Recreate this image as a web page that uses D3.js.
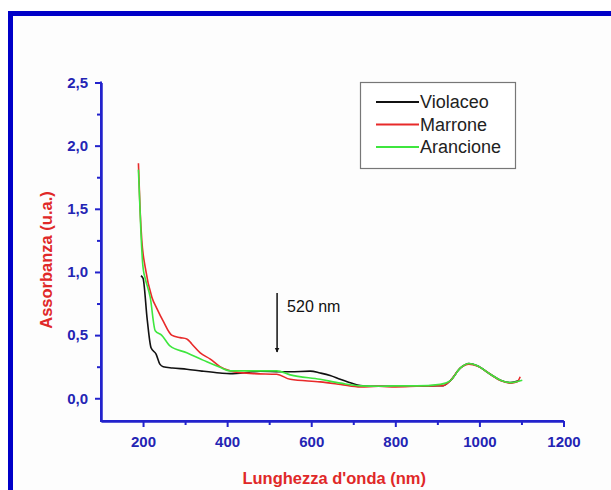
<!DOCTYPE html>
<html><head><meta charset="utf-8">
<script src="https://cdn.jsdelivr.net/npm/d3@7"></script>
<style>
html,body{margin:0;padding:0;background:#fff;}
svg{display:block;}
</style></head>
<body>
<svg id="chart" width="611" height="490"></svg>
<script>
// ---- data ----
const seriesNames = ["Violaceo", "Marrone", "Arancione"];
const seriesColors = ["#111111", "#e82a2a", "#3ee63e"];

const violaceoNm = [195, 200, 210, 219, 231, 240, 248, 270, 304, 340, 383, 407, 450, 479, 526, 550, 598, 621, 645, 669, 695, 717, 740, 800, 850, 900, 914, 931, 955, 975, 995, 1026, 1050, 1074, 1095];
const violaceoA  = [0.97, 0.95, 0.62, 0.40, 0.35, 0.27, 0.25, 0.24, 0.23, 0.215, 0.20, 0.195, 0.205, 0.215, 0.21, 0.21, 0.215, 0.20, 0.18, 0.15, 0.12, 0.10, 0.095, 0.095, 0.095, 0.10, 0.10, 0.14, 0.24, 0.275, 0.257, 0.19, 0.143, 0.124, 0.14];

const marroneNm = [189, 193, 197, 205, 221, 233, 248, 268, 288, 304, 316, 336, 360, 383, 407, 463, 518, 550, 621, 670, 717, 760, 800, 850, 900, 914, 931, 955, 975, 995, 1026, 1050, 1074, 1090, 1097];
const marroneA  = [1.86, 1.49, 1.25, 1.04, 0.80, 0.71, 0.61, 0.50, 0.48, 0.47, 0.43, 0.36, 0.31, 0.25, 0.217, 0.195, 0.19, 0.15, 0.13, 0.11, 0.09, 0.095, 0.09, 0.095, 0.10, 0.10, 0.14, 0.24, 0.27, 0.255, 0.19, 0.14, 0.12, 0.13, 0.17];

const arancioneNm = [189, 195, 199, 201, 205, 217, 229, 244, 264, 304, 344, 383, 407, 463, 479, 518, 550, 621, 670, 717, 760, 800, 850, 907, 931, 955, 975, 995, 1026, 1050, 1074, 1102];
const arancioneA  = [1.81, 1.31, 1.07, 1.01, 0.95, 0.80, 0.535, 0.50, 0.415, 0.36, 0.30, 0.245, 0.217, 0.217, 0.217, 0.217, 0.185, 0.15, 0.12, 0.098, 0.095, 0.098, 0.098, 0.11, 0.14, 0.24, 0.275, 0.257, 0.19, 0.143, 0.124, 0.143];

const xTicks = [200, 400, 600, 800, 1000, 1200];
const yTicks = [0.0, 0.5, 1.0, 1.5, 2.0, 2.5];
const yTickLabels = ["0,0", "0,5", "1,0", "1,5", "2,0", "2,5"];
const xLabel = "Lunghezza d'onda (nm)";
const yLabel = "Assorbanza (u.a.)";
const annotationNm = 520;
const annotationText = "520 nm";

// ---- layout ----
const svg = d3.select("#chart");
const pLeft = 101, pRight = 563.5, pTop = 82.5, pBottom = 421;
const x = d3.scaleLinear().domain([100, 1200]).range([pLeft, pRight]);
const y = d3.scaleLinear().domain([-0.18, 2.5]).range([pBottom, pTop]);
const axisColor = "#2222cc";
const labelColor = "#2424b4";
const FONT = "'Liberation Sans', Arial, sans-serif";

// background and frame
svg.append("rect").attr("x", 0).attr("y", 0).attr("width", 611).attr("height", 490).attr("fill", "#ffffff");
svg.append("rect").attr("x", 10.5).attr("y", 13.5).attr("width", 640).attr("height", 520)
  .attr("fill", "#fdfdfd").attr("stroke", "#0000c8").attr("stroke-width", 5);

// axes
const xAxis = d3.axisBottom(x).tickValues(xTicks).tickSize(6).tickSizeOuter(0).tickPadding(9).tickFormat(d3.format("d"));
const xMinor = d3.axisBottom(x).tickValues(d3.range(300, 1200, 200)).tickSize(4).tickSizeOuter(0).tickFormat("");
const yAxis = d3.axisLeft(y).tickValues(yTicks).tickSize(6).tickSizeOuter(0).tickPadding(7)
  .tickFormat((d, i) => yTickLabels[i]);
const yMinor = d3.axisLeft(y).tickValues([0.25, 0.75, 1.25, 1.75, 2.25]).tickSize(4).tickSizeOuter(0).tickFormat("");

function styleAxis(g) {
  g.selectAll("path.domain").attr("stroke", axisColor).attr("stroke-width", 2);
  g.selectAll(".tick line").attr("stroke", axisColor).attr("stroke-width", 2);
  g.selectAll(".tick text").attr("fill", labelColor)
    .style("font-family", FONT).style("font-weight", "bold").style("font-size", "15px");
}
svg.append("g").attr("transform", `translate(0,${pBottom})`).call(xMinor).call(styleAxis);
svg.append("g").attr("transform", `translate(0,${pBottom})`).call(xAxis).call(styleAxis);
svg.append("g").attr("transform", `translate(${pLeft},0)`).call(yMinor).call(styleAxis);
svg.append("g").attr("transform", `translate(${pLeft},0)`).call(yAxis).call(styleAxis);
svg.append("line").attr("x1", pLeft).attr("x2", pLeft).attr("y1", pTop - 1).attr("y2", pBottom)
  .attr("stroke", axisColor).attr("stroke-width", 2);
svg.append("line").attr("x1", pLeft - 1).attr("x2", pRight).attr("y1", pBottom).attr("y2", pBottom)
  .attr("stroke", axisColor).attr("stroke-width", 2);

// axis labels
svg.append("text").attr("x", (pLeft + pRight) / 2 + 2).attr("y", 484).attr("text-anchor", "middle")
  .style("font-family", FONT).style("font-weight", "bold").style("font-size", "16.5px")
  .attr("fill", "#e02828").text(xLabel);
svg.append("text").attr("transform", "translate(52,260) rotate(-90)").attr("text-anchor", "middle")
  .style("font-family", FONT).style("font-weight", "bold").style("font-size", "16.5px")
  .attr("fill", "#e02828").text(yLabel);

// lines
const data = [
  violaceoNm.map((n, i) => [n, violaceoA[i]]),
  marroneNm.map((n, i) => [n, marroneA[i]]),
  arancioneNm.map((n, i) => [n, arancioneA[i]])
];
const line = d3.line().x(d => x(d[0])).y(d => y(d[1])).curve(d3.curveMonotoneX);
data.forEach((d, i) => {
  svg.append("path").datum(d).attr("d", line).attr("fill", "none")
    .attr("stroke", seriesColors[i]).attr("stroke-width", 1.6).attr("stroke-linejoin", "round");
});

// annotation arrow
const ax = x(annotationNm) - 0.5;
svg.append("defs").append("marker").attr("id", "arrow").attr("viewBox", "0 0 10 10")
  .attr("refX", 9).attr("refY", 5).attr("markerWidth", 5).attr("markerHeight", 7).attr("orient", "auto")
  .attr("markerUnits", "userSpaceOnUse")
  .append("path").attr("d", "M0,0 L10,5 L0,10 Z").attr("fill", "#111");
svg.append("line").attr("x1", ax).attr("x2", ax).attr("y1", 293).attr("y2", 352)
  .attr("stroke", "#111").attr("stroke-width", 1.5).attr("marker-end", "url(#arrow)");
svg.append("text").attr("x", ax + 10).attr("y", 312)
  .style("font-family", FONT).style("font-size", "16px").attr("fill", "#111").text(annotationText);

// legend
const lg = svg.append("g");
lg.append("rect").attr("x", 360.5).attr("y", 82.5).attr("width", 155).attr("height", 86)
  .attr("fill", "#fff").attr("stroke", "#777").attr("stroke-width", 1.2);
seriesNames.forEach((name, i) => {
  const yy = 102 + i * 22.5;
  lg.append("line").attr("x1", 376).attr("x2", 419).attr("y1", yy).attr("y2", yy)
    .attr("stroke", seriesColors[i]).attr("stroke-width", 2);
  lg.append("text").attr("x", 420).attr("y", yy + 6)
    .style("font-family", FONT).style("font-size", "18px").attr("fill", "#222").text(name);
});
</script>
</body></html>
